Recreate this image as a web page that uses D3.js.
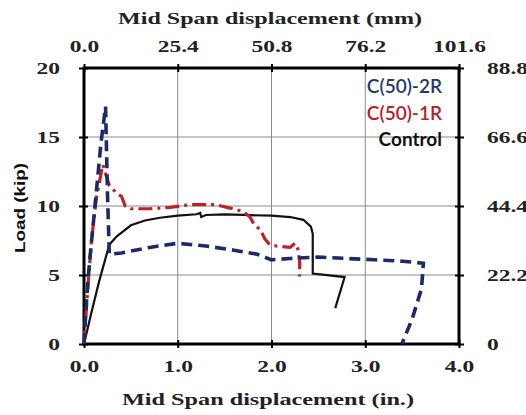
<!DOCTYPE html>
<html><head><meta charset="utf-8">
<script src="https://cdn.jsdelivr.net/npm/d3@7"></script>
<style>body{margin:0;background:#fff}svg{display:block}</style>
</head><body>
<svg id="c" width="526" height="415"></svg>
<script>
// Data (inches, kip)
const xTicksIn = [0, 1, 2, 3, 4];
const xTickLabelsIn = ["0.0", "1.0", "2.0", "3.0", "4.0"];
const xTickLabelsMm = ["0.0", "25.4", "50.8", "76.2", "101.6"];
const yTicksKip = [0, 5, 10, 15, 20];
const yTickLabelsKip = ["0", "5", "10", "15", "20"];
const yTickLabelsKN = ["0", "22.2", "44.4", "66.6", "88.8"];

const seriesNames = ["C(50)-2R", "C(50)-1R", "Control"];

const c2rX = [0, 0.03, 0.06, 0.12, 0.18, 0.23, 0.25, 0.27, 0.4, 0.7, 1.0, 1.3, 1.6, 1.85, 2.0, 2.2, 2.5, 2.8, 3.1, 3.4, 3.62, 3.6, 3.5, 3.39];
const c2rY = [0, 3.5, 6.0, 10.2, 14.5, 17.2, 11.0, 6.5, 6.6, 7.0, 7.3, 7.1, 6.8, 6.5, 6.1, 6.2, 6.3, 6.2, 6.1, 6.0, 5.85, 4.0, 1.8, 0];

const c1rX = [0, 0.04, 0.08, 0.13, 0.2, 0.27, 0.35, 0.4, 0.44, 0.5, 0.7, 0.92, 1.13, 1.4, 1.56, 1.7, 1.77, 1.82, 1.88, 1.93, 1.98, 2.05, 2.2, 2.25, 2.28, 2.3, 2.3];
const c1rY = [0, 4.0, 7.5, 10.5, 13.0, 11.5, 10.9, 10.7, 10.0, 9.8, 9.8, 9.9, 10.1, 10.1, 9.85, 9.6, 9.2, 8.6, 8.3, 7.6, 7.2, 7.1, 7.0, 7.3, 6.9, 6.0, 4.9];

const ctrlX = [0, 0.08, 0.16, 0.27, 0.35, 0.5, 0.65, 0.81, 1.0, 1.2, 1.24, 1.25, 1.3, 1.5, 1.7, 2.0, 2.2, 2.34, 2.42, 2.44, 2.44, 2.78, 2.68];
const ctrlY = [0, 2.3, 4.5, 7.2, 7.8, 8.6, 8.95, 9.15, 9.3, 9.4, 9.5, 9.2, 9.35, 9.4, 9.35, 9.3, 9.2, 9.0, 8.5, 8.0, 5.1, 4.85, 2.6];

const svg = d3.select("#c");
const L = 84, R = 459, T = 68, B = 344;
const x = d3.scaleLinear().domain([0, 4]).range([L, R]);
const y = d3.scaleLinear().domain([0, 20]).range([B, T]);
const serif = "'Liberation Serif','Times New Roman',serif";
const STRETCH = 1.38;

function stretch(sel, k) {
  sel.each(function () {
    const w = this.getComputedTextLength();
    d3.select(this).attr("textLength", w * k).attr("lengthAdjust", "spacingAndGlyphs");
  });
}

// grid
svg.append("g").selectAll("line.v").data(xTicksIn.slice(1, -1)).join("line")
  .attr("x1", d => x(d)).attr("x2", d => x(d)).attr("y1", T).attr("y2", B)
  .attr("stroke", "#8a8a8a").attr("stroke-width", 1);
svg.append("g").selectAll("line.h").data(yTicksKip.slice(1, -1)).join("line")
  .attr("y1", d => y(d)).attr("y2", d => y(d)).attr("x1", L).attr("x2", R)
  .attr("stroke", "#8a8a8a").attr("stroke-width", 1);

// axes
function styleAxis(g) {
  g.select(".domain").remove();
  g.selectAll(".tick line").attr("stroke", "#000").attr("stroke-width", 2);
  g.selectAll(".tick text").attr("font-family", serif).attr("font-weight", "bold")
    .attr("font-size", 17).attr("fill", "#222").call(stretch, STRETCH);
}
const axB = d3.axisBottom(x).tickValues(xTicksIn).tickFormat((d, i) => xTickLabelsIn[i]).tickSizeInner(4).tickSizeOuter(0).tickPadding(12);
svg.append("g").attr("transform", `translate(0,${B})`).call(axB).call(styleAxis)
  .selectAll(".tick line").attr("y1", -4);
const axT = d3.axisTop(x).tickValues(xTicksIn).tickFormat((d, i) => xTickLabelsMm[i]).tickSizeInner(4).tickSizeOuter(0).tickPadding(12);
svg.append("g").attr("transform", `translate(0,${T})`).call(axT).call(styleAxis)
  .selectAll(".tick line").attr("y1", 4);
const axL = d3.axisLeft(y).tickValues(yTicksKip).tickFormat((d, i) => yTickLabelsKip[i]).tickSizeInner(5).tickSizeOuter(0).tickPadding(19);
svg.append("g").attr("transform", `translate(${L},0)`).call(axL).call(styleAxis)
  .selectAll(".tick line").attr("x1", 4);
const yR = d3.scaleLinear().domain([0, 88.8]).range([B, T]);
const axR = d3.axisRight(yR).tickValues(yTicksKip.map(d => d * 4.44)).tickFormat((d, i) => yTickLabelsKN[i]).tickSizeInner(5).tickSizeOuter(0).tickPadding(23);
svg.append("g").attr("transform", `translate(${R},0)`).call(axR).call(styleAxis)
  .selectAll(".tick line").attr("x1", -4);

// frame
svg.append("rect").attr("x", L).attr("y", T).attr("width", R - L).attr("height", B - T)
  .attr("fill", "none").attr("stroke", "#000").attr("stroke-width", 3);

// series
const line = d3.line().x(d => x(d[0])).y(d => y(d[1]));
const zip = (a, b) => a.map((v, i) => [v, b[i]]);
svg.append("path").datum(zip(ctrlX, ctrlY)).attr("d", line)
  .attr("fill", "none").attr("stroke", "#111").attr("stroke-width", 2.2);
svg.append("path").datum(zip(c1rX, c1rY)).attr("d", line)
  .attr("fill", "none").attr("stroke", "#c0202a").attr("stroke-width", 3.2)
  .attr("stroke-dasharray", "14,5,3,5");
svg.append("path").datum(zip(c2rX, c2rY)).attr("d", line)
  .attr("fill", "none").attr("stroke", "#1c2a6a").attr("stroke-width", 3.6)
  .attr("stroke-dasharray", "11,6");

// legend
const legColors = ["#1f3a6e", "#b8202a", "#111"];
const legY = [93, 120, 146];
svg.append("g").selectAll("text").data(seriesNames).join("text")
  .attr("x", 442).attr("y", (d, i) => legY[i]).attr("text-anchor", "end")
  .attr("font-family", "Lato, 'Open Sans', sans-serif").attr("font-size", 19)
  .attr("font-weight", (d, i) => i === 2 ? "bold" : "600")
  .attr("fill", (d, i) => legColors[i]).text(d => d);

// titles
svg.append("text").attr("x", 270).attr("y", 24).attr("text-anchor", "middle")
  .attr("font-family", serif).attr("font-weight", "bold").attr("font-size", 17).attr("fill", "#222")
  .text("Mid  Span  displacement  (mm)").attr("textLength", 304).attr("lengthAdjust", "spacingAndGlyphs");
svg.append("text").attr("x", 268).attr("y", 405).attr("text-anchor", "middle")
  .attr("font-family", serif).attr("font-weight", "bold").attr("font-size", 17).attr("fill", "#222")
  .text("Mid  Span  displacement  (in.)").attr("textLength", 292).attr("lengthAdjust", "spacingAndGlyphs");
svg.append("text").attr("transform", "translate(25,208) rotate(-90)").attr("text-anchor", "middle")
  .attr("font-family", "'Liberation Sans', Arial, sans-serif").attr("font-weight", "bold").attr("font-size", 15).attr("fill", "#111")
  .text("Load (kip)").attr("textLength", 90).attr("lengthAdjust", "spacingAndGlyphs");
</script>
</body></html>
